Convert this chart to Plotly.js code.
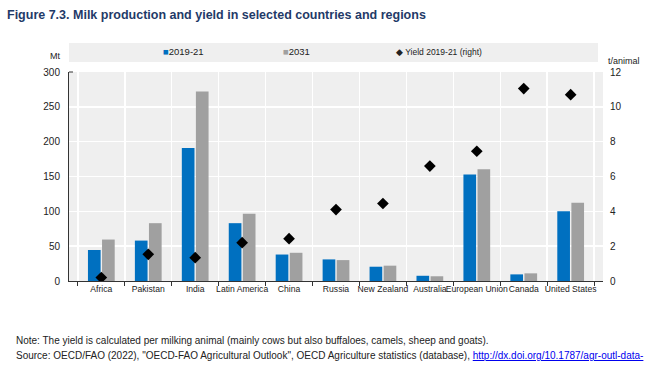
<!DOCTYPE html>
<html><head><meta charset="utf-8">
<script src="https://cdn.plot.ly/plotly-3.0.1.min.js"></script>
<style>html,body{margin:0;padding:0;background:#fff;}#chart{width:657px;height:366px;}</style>
</head><body><div id="chart"></div>
<script>
const categories = ["Africa","Pakistan","India","Latin America","China","Russia","New Zealand","Australia","European Union","Canada","United States"];
const prod2019 = [44.5, 58, 191, 83, 38, 31, 20.5, 7.5, 153, 9.5, 100];
const prod2031 = [59.5, 83, 272, 96.5, 40.5, 30, 22, 6.8, 160.5, 11, 112.5];
const yield2019 = [0.2, 1.53, 1.34, 2.2, 2.43, 4.1, 4.45, 6.6, 7.45, 11.05, 10.7];
const leftTicks = [0, 50, 100, 150, 200, 250, 300];
const rightTicks = [0, 2, 4, 6, 8, 10, 12];

const FONT = "'Liberation Sans Narrow', 'Arial Narrow', 'Liberation Sans', Arial, sans-serif";
const W = 657, H = 366, L = 69, R = 603, T = 72, B = 281;
const px = x => (x - L) / (R - L);
const py = y => (B - y) / (B - T);

const traces = [
  {type:'bar', name:'2019-21', x:categories, y:prod2019, marker:{color:'#0070C0'}, showlegend:false},
  {type:'bar', name:'2031', x:categories, y:prod2031, marker:{color:'#A0A0A0'}, showlegend:false},
  {type:'scatter', mode:'markers', name:'Yield 2019-21 (right)', x:categories, y:yield2019, yaxis:'y2',
   marker:{symbol:'diamond', color:'#000', size:9}, showlegend:false}
];

const layout = {
  width:W, height:H,
  margin:{l:L, r:W-R, t:T, b:H-B, pad:0},
  paper_bgcolor:'#fff', plot_bgcolor:'#EFEFEF',
  font:{family:FONT, size:10, color:'#333'},
  barmode:'group', bargap:0.4, bargroupgap:0.1,
  title:{text:'<b>Figure 7.3. Milk production and yield in selected countries and regions</b>',
    x:7/W, xanchor:'left', xref:'container', y:1-15/H, yanchor:'middle', yref:'container',
    font:{family:FONT, size:12.5, color:'#1F3A68'}},
  xaxis:{type:'category', tickson:'boundaries', showgrid:true, gridcolor:'#fff', gridwidth:1.5,
    ticks:'outside', ticklen:4, tickcolor:'#333', showline:true, linecolor:'#333', linewidth:1,
    tickangle:0, tickfont:{size:8.6, color:'#222'}, fixedrange:true},
  yaxis:{range:[0,300], tickvals:leftTicks, showgrid:true, gridcolor:'#fff', gridwidth:1.5,
    showline:true, linecolor:'#333', linewidth:1, ticks:'', zeroline:false,
    tickfont:{size:10, color:'#222'}, ticklabelstandoff:6},
  yaxis2:{range:[0,12], tickvals:rightTicks, overlaying:'y', side:'right', showgrid:false,
    zeroline:false, showline:false, tickfont:{size:10, color:'#222'}, ticklabelstandoff:6},
  shapes:[
    {type:'rect', xref:'paper', yref:'paper', x0:0, x1:px(598), y0:py(62), y1:py(43),
     fillcolor:'#EFEFEF', line:{width:0}, layer:'below'},
    {type:'line', xref:'paper', yref:'paper', x0:0, x1:px(L+4), y0:1, y1:1, line:{color:'#333', width:1}}
  ],
  annotations:[
    {text:'Mt', xref:'paper', yref:'paper', x:px(62), y:py(56), xanchor:'right', yanchor:'middle', showarrow:false, font:{size:9,color:'#222'}},
    {text:'t/animal', xref:'paper', yref:'paper', x:px(606), y:py(61), xanchor:'left', yanchor:'middle', showarrow:false, font:{size:9,color:'#222'}},
    {text:'<span style="color:#0070C0">■</span>2019-21', xref:'paper', yref:'paper', x:px(161), y:py(52), xanchor:'left', yanchor:'middle', showarrow:false, font:{size:9.5,color:'#222'}},
    {text:'<span style="color:#A0A0A0">■</span>2031', xref:'paper', yref:'paper', x:px(281), y:py(52), xanchor:'left', yanchor:'middle', showarrow:false, font:{size:9.5,color:'#222'}},
    {text:'◆ Yield 2019-21 (right)', xref:'paper', yref:'paper', x:px(394), y:py(52), xanchor:'left', yanchor:'middle', showarrow:false, font:{size:8.5,color:'#222'}},
    {text:'Note: The yield is calculated per milking animal (mainly cows but also buffaloes, camels, sheep and goats).', xref:'paper', yref:'paper', x:px(14), y:py(340), xanchor:'left', yanchor:'middle', showarrow:false, font:{size:10,color:'#222'}},
    {text:'Source: OECD/FAO (2022), "OECD-FAO Agricultural Outlook", OECD Agriculture statistics (database), <span style="color:#0000EE;text-decoration:underline">http://dx.doi.org/10.1787/agr-outl-data-</span>', xref:'paper', yref:'paper', x:px(14), y:py(355), xanchor:'left', yanchor:'middle', showarrow:false, font:{size:10,color:'#222'}}
  ]
};

Plotly.newPlot('chart', traces, layout, {displayModeBar:false, staticPlot:true});
</script></body></html>
